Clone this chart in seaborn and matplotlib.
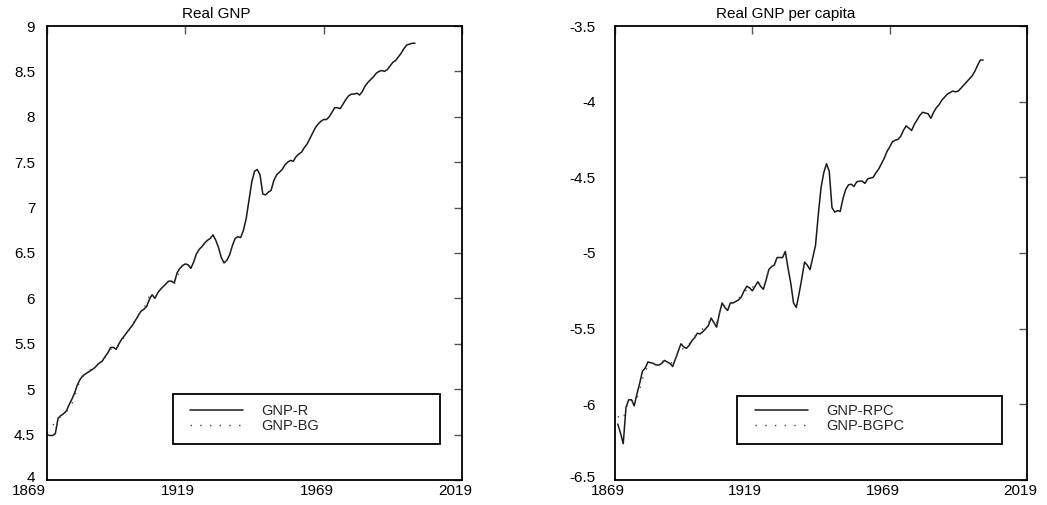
"""Real GNP vs Balke-Gordon GNP, levels and per capita (logs)"""
import numpy as np
import pandas as pd
import seaborn as sns
import matplotlib
matplotlib.use('Agg')
import matplotlib.pyplot as plt
from matplotlib.patches import Rectangle
from matplotlib.transforms import ScaledTranslation

sns.set_theme(style='white')
plt.rcParams['font.family'] = ['Liberation Sans', 'DejaVu Sans']
plt.rcParams['axes.unicode_minus'] = False

# ---- data ----
gnp_start, rpc_start = 1869, 1870

gnp_r = [
    4.50, 4.49, 4.49, 4.51, 4.68, 4.71, 4.73, 4.76, 4.83, 4.89,
    4.96, 5.05, 5.11, 5.15, 5.17, 5.19, 5.21, 5.23, 5.26, 5.29,
    5.31, 5.36, 5.40, 5.46, 5.46, 5.44, 5.50, 5.55, 5.59, 5.63,
    5.67, 5.71, 5.76, 5.81, 5.86, 5.88, 5.91, 5.99, 6.04, 6.00,
    6.06, 6.10, 6.13, 6.16, 6.19, 6.19, 6.17, 6.28, 6.33, 6.36,
    6.38, 6.37, 6.33, 6.40, 6.49, 6.54, 6.57, 6.61, 6.64, 6.66,
    6.70, 6.64, 6.56, 6.45, 6.39, 6.42, 6.48, 6.58, 6.66, 6.68,
    6.67, 6.75, 6.88, 7.08, 7.28, 7.40, 7.42, 7.36, 7.15, 7.14,
    7.17, 7.19, 7.30, 7.36, 7.39, 7.42, 7.47, 7.50, 7.52, 7.51,
    7.56, 7.59, 7.61, 7.66, 7.70, 7.76, 7.82, 7.88, 7.92, 7.95,
    7.97, 7.97, 8.00, 8.05, 8.10, 8.10, 8.09, 8.14, 8.19, 8.23,
    8.25, 8.25, 8.26, 8.24, 8.28, 8.34, 8.38, 8.41, 8.44, 8.48,
    8.50, 8.51, 8.50, 8.52, 8.56, 8.60, 8.62, 8.66, 8.70, 8.75,
    8.79, 8.80, 8.81, 8.81,
]

gnp_bg = [
    4.52, 4.56, 4.60, 4.63, 4.67, 4.70, 4.72, 4.75, 4.79, 4.84,
    4.92, 5.02, 5.10, 5.14, 5.18, 5.20, 5.22, 5.24, 5.27, 5.29,
    5.32, 5.35, 5.40, 5.44, 5.44, 5.43, 5.49, 5.53, 5.58, 5.62,
    5.67, 5.72, 5.77, 5.82, 5.85, 5.89, 5.95, 6.03, 6.04, 6.01,
    6.07, 6.10, 6.12, 6.16, 6.20, 6.20, 6.16, 6.24, 6.30, 6.37,
    6.39, 6.38, 6.34, 6.40, 6.49, 6.54, 6.57, 6.61, 6.64, 6.66,
    6.70,
]

gnp_rpc = [
    -6.13, -6.19, -6.26, -6.02, -5.97, -5.97, -6.01, -5.93, -5.86, -5.78,
    -5.76, -5.72, -5.725, -5.73, -5.74, -5.74, -5.73, -5.71, -5.72, -5.73,
    -5.75, -5.70, -5.65, -5.60, -5.62, -5.63, -5.61, -5.58, -5.56, -5.53,
    -5.535, -5.52, -5.50, -5.48, -5.43, -5.46, -5.49, -5.40, -5.33, -5.36,
    -5.38, -5.33, -5.33, -5.32, -5.31, -5.29, -5.25, -5.22, -5.23, -5.25,
    -5.22, -5.19, -5.22, -5.24, -5.18, -5.11, -5.09, -5.08, -5.03, -5.03,
    -5.03, -4.99, -5.10, -5.20, -5.33, -5.36, -5.27, -5.17, -5.06, -5.08,
    -5.11, -5.03, -4.95, -4.75, -4.57, -4.47, -4.41, -4.46, -4.70, -4.73,
    -4.72, -4.725, -4.64, -4.58, -4.55, -4.545, -4.56, -4.53, -4.525, -4.525,
    -4.54, -4.51, -4.505, -4.50, -4.47, -4.445, -4.41, -4.375, -4.33, -4.30,
    -4.265, -4.255, -4.25, -4.23, -4.19, -4.16, -4.175, -4.19, -4.15, -4.12,
    -4.09, -4.07, -4.075, -4.08, -4.11, -4.07, -4.04, -4.02, -3.99, -3.97,
    -3.95, -3.94, -3.93, -3.935, -3.93, -3.91, -3.89, -3.87, -3.85, -3.83,
    -3.80, -3.76, -3.725, -3.725,
]

gnp_bgpc = [
    -6.08, -6.09, -6.10, -6.03, -5.98, -5.97, -5.99, -5.96, -5.90, -5.83,
    -5.78, -5.75, -5.73, -5.73, -5.73, -5.73, -5.72, -5.71, -5.71, -5.72,
    -5.73, -5.70, -5.66, -5.64, -5.63, -5.63, -5.60, -5.57, -5.55, -5.53,
    -5.52, -5.50, -5.48, -5.46, -5.44, -5.45, -5.46, -5.40, -5.35, -5.35,
    -5.36, -5.33, -5.32, -5.31, -5.30, -5.28, -5.26, -5.24, -5.22, -5.23,
    -5.20, -5.19, -5.21, -5.23, -5.18, -5.11, -5.09, -5.08, -5.03, -5.03,
    -5.03,
]

xticks = [1869, 1919, 1969, 2019]
yticks_l = [4, 4.5, 5, 5.5, 6, 6.5, 7, 7.5, 8, 8.5, 9]
yticks_r = [-6.5, -6, -5.5, -5, -4.5, -4, -3.5]


def years(start, vals):
    return np.arange(start, start + len(vals))


W, H = 1047, 505
fig = plt.figure(figsize=(W / 100, H / 100), dpi=100, facecolor='white')
ax1 = fig.add_axes([47 / W, (H - 480) / H, 415 / W, 454 / H])
ax2 = fig.add_axes([615 / W, (H - 480) / H, 412 / W, 454 / H])

SOLID = dict(color='#1a1a1a', lw=1.1)
DOTS = dict(color='#444444', lw=1.0, linestyle=(0, (1, 6)))

panels = [
    (ax1, 'Real GNP', 216, gnp_r, gnp_start, gnp_bg, gnp_start, 'GNP-R', 'GNP-BG',
     yticks_l, 8.5, [-18, -7, -7, -7], (190, 404, 173, 394, 440, 444)),
    (ax2, 'Real GNP per capita', 786, gnp_rpc, rpc_start, gnp_bgpc, rpc_start, 'GNP-RPC', 'GNP-BGPC',
     yticks_r, 14, [-7, -7, -7, -7], (755, 404, 737, 396, 1002, 444)),
]

for ax, title, tx, sol, s0, dot, d0, lab1, lab2, yt, ypad, xoff, leg in panels:
    sns.lineplot(x=years(s0, sol), y=sol, ax=ax, label=lab1, **SOLID)
    sns.lineplot(x=years(d0, dot), y=dot, ax=ax, label=lab2, **DOTS)

    ax.set_xlim(xticks[0], xticks[-1])
    ax.set_ylim(yt[0], yt[-1])
    ax.set_xticks(xticks)
    ax.set_xticklabels([str(x) for x in xticks])
    ax.set_yticks(yt)
    ax.set_yticklabels([f'{v:g}' for v in yt])
    ax.set_xlabel('')
    ax.set_ylabel('')
    for sp in ax.spines.values():
        sp.set_visible(True)
        sp.set_color('black')
        sp.set_linewidth(1.3)
    ax.tick_params(axis='both', direction='in', length=6, width=1, color='#555555',
                   top=True, right=True, labelsize=11, labelcolor='black')
    ax.tick_params(axis='x', pad=3)
    ax.tick_params(axis='y', pad=ypad)
    for lbl, dx in zip(ax.get_xticklabels(), xoff):
        lbl.set_transform(lbl.get_transform() + ScaledTranslation(dx / 100, 0, fig.dpi_scale_trans))
    # lowest y label sits a little above its tick, clear of the first year label
    low = ax.get_yticklabels()[0]
    low.set_transform(low.get_transform() + ScaledTranslation(0, 4 / 100, fig.dpi_scale_trans))

    fig.text(tx / W, 1 - 14 / H, title, ha='center', va='center', fontsize=11, color='black')

    # legend: framed box larger than its contents
    hx, hy, bx0, by0, bx1, by1 = leg
    x0 = ax.get_position().x0 * W
    y0 = H - ax.get_position().y0 * H
    aw = ax.get_position().width * W
    ah = ax.get_position().height * H
    ax.add_patch(Rectangle(((bx0 - x0) / aw, (y0 - by1) / ah), (bx1 - bx0) / aw, (by1 - by0) / ah,
                           transform=ax.transAxes, fill=False, edgecolor='black', lw=1.3, zorder=5))
    handles, labels = ax.get_legend_handles_labels()
    ax.legend(handles, labels, loc='upper left', bbox_to_anchor=((hx - x0) / aw, (y0 - hy) / ah),
              frameon=False, borderpad=0, borderaxespad=0, handlelength=3.6, handletextpad=1.3,
              labelspacing=0.05, fontsize=10.5)

fig.savefig('out.png', dpi=100, facecolor='white')
